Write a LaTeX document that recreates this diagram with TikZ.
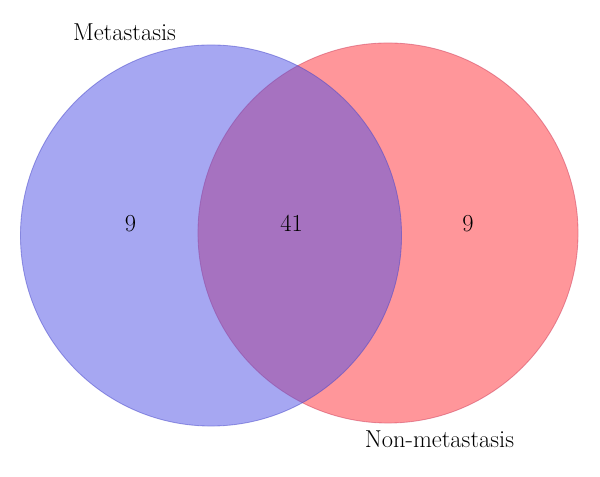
\documentclass[tikz,border=0pt]{standalone}
\definecolor{metaBlue}{RGB}{78,80,230}
\definecolor{metaEdge}{RGB}{70,70,200}
\definecolor{nonmetaRed}{RGB}{255,46,54}
\definecolor{nonmetaEdge}{RGB}{205,60,90}
\begin{document}
\begin{tikzpicture}[x=0.025cm,y=-0.025cm,
	nonmeta_set/.style={circle,fill=nonmetaRed,fill opacity=0.5,draw=nonmetaEdge,draw opacity=0.5,line width=0.6pt,minimum size=9.5cm,inner sep=0pt},
	meta_set/.style={circle,fill=metaBlue,fill opacity=0.5,draw=metaEdge,draw opacity=0.5,line width=0.6pt,minimum size=9.525cm,inner sep=0pt},
	count_node/.style={anchor=base,font=\fontsize{17.4}{21}\selectfont},
	set_label/.style={anchor=base,font=\fontsize{17.4}{21}\selectfont}]
		
		\useasboundingbox (0,0) rectangle (600,477);
		
		\node[nonmeta_set] (nonmeta) at (388,233) {};
		\node[meta_set] (meta) at (211,235.5) {};
		
		\node[count_node] (onlymeta) at (130.5,232) {9};
		\node[count_node] (both) at (291.5,232) {41};
		\node[count_node] (onlynonmeta) at (468,232) {9};
		
		\node[set_label] (metalabel) at (124.5,41) {Metastasis};
		\node[set_label] (nonmetalabel) at (439.5,448) {Non-metastasis};
		\end{tikzpicture}
\end{document}
